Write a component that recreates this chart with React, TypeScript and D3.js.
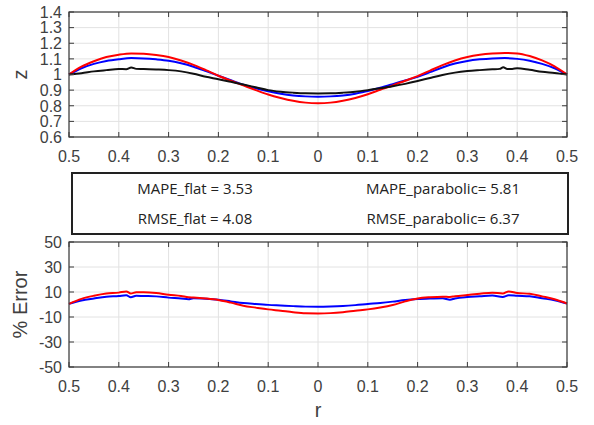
import React from "react";
import * as d3 from "d3";

const W = 594;
const H = 425;

// top panel: surface height z vs r
const rTop = [
  -0.5, -0.475, -0.45, -0.425, -0.4, -0.375, -0.35, -0.325, -0.3, -0.275, -0.25,
  -0.225, -0.2, -0.175, -0.15, -0.125, -0.1, -0.075, -0.05, -0.025, 0,
  0.025, 0.05, 0.075, 0.1, 0.125, 0.15, 0.175, 0.2, 0.225, 0.25,
  0.275, 0.3, 0.325, 0.35, 0.375, 0.4, 0.425, 0.45, 0.475, 0.5,
];
const zFlat = [
  1.0, 1.04, 1.068, 1.087, 1.098, 1.105, 1.103, 1.097, 1.088, 1.072, 1.05,
  1.022, 0.992, 0.963, 0.935, 0.912, 0.893, 0.877, 0.866, 0.86, 0.858,
  0.86, 0.866, 0.877, 0.895, 0.915, 0.938, 0.962, 0.985, 1.015, 1.045,
  1.07, 1.087, 1.097, 1.103, 1.105, 1.1, 1.088, 1.068, 1.04, 1.0,
];
const zParabolic = [
  1.0, 1.05, 1.085, 1.112, 1.127, 1.135, 1.133, 1.125, 1.112, 1.09, 1.062,
  1.028, 0.992, 0.96, 0.93, 0.9, 0.872, 0.85, 0.832, 0.82, 0.816,
  0.82, 0.832, 0.85, 0.874, 0.902, 0.93, 0.96, 0.99, 1.025, 1.06,
  1.09, 1.112, 1.126, 1.134, 1.138, 1.135, 1.118, 1.09, 1.052, 1.0,
];
const rMeasured = [
  -0.5, -0.475, -0.45, -0.425, -0.4, -0.385, -0.375, -0.365, -0.35, -0.325, -0.3,
  -0.275, -0.25, -0.225, -0.2, -0.175, -0.15, -0.125, -0.1, -0.075, -0.05, -0.025, 0,
  0.025, 0.05, 0.075, 0.1, 0.125, 0.15, 0.175, 0.2, 0.225, 0.25, 0.275, 0.3,
  0.325, 0.35, 0.365, 0.372, 0.38, 0.39, 0.4, 0.425, 0.45, 0.475, 0.5,
];
const zMeasured = [
  1.0, 1.008, 1.02, 1.028, 1.035, 1.034, 1.045, 1.036, 1.035, 1.032, 1.028,
  1.02, 1.005, 0.985, 0.97, 0.953, 0.936, 0.918, 0.9, 0.89, 0.884, 0.88, 0.879,
  0.88, 0.884, 0.89, 0.9, 0.912, 0.925, 0.94, 0.958, 0.978, 0.997, 1.012, 1.022,
  1.028, 1.033, 1.036, 1.046, 1.036, 1.036, 1.04, 1.03, 1.018, 1.01, 1.0,
];

// bottom panel: % error vs r
const rErr = [
  -0.5, -0.475, -0.45, -0.425, -0.4, -0.385, -0.376, -0.365, -0.35, -0.325, -0.3,
  -0.275, -0.26, -0.25, -0.225, -0.2, -0.175, -0.15, -0.125, -0.1, -0.075, -0.05,
  -0.025, 0, 0.025, 0.05, 0.075, 0.1, 0.125, 0.15, 0.175, 0.2, 0.225, 0.25,
  0.265, 0.275, 0.3, 0.325, 0.35, 0.371, 0.383, 0.4, 0.425, 0.45, 0.475, 0.5,
];
const errFlat = [
  0.5, 3.2, 4.8, 6.2, 6.8, 7.4, 5.8, 7, 6.8, 6.5, 5.5,
  4.8, 4.2, 5, 4.6, 3.8, 2.5, 1.2, 0.4, -0.3, -0.8, -1.3,
  -1.7, -1.8, -1.6, -1.2, -0.5, 0.4, 1.2, 2.3, 3.6, 4.4, 4.8, 5,
  3.8, 4.8, 6, 6.6, 7.2, 6, 7.4, 7, 6.6, 5, 3.4, 0.8,
];
const errParabolic = [
  0.5, 4.5, 7, 8.8, 9.5, 10.5, 8.8, 9.8, 9.8, 9.2, 7.8,
  6.8, 5.8, 5.6, 4.8, 3.6, 1.5, -1, -2.5, -3.9, -5, -6.2,
  -7, -7.1, -6.9, -6.2, -5, -3.9, -2.4, -0.4, 2.5, 4.8, 5.8, 6.3,
  6, 6.6, 7.6, 8.6, 9.5, 8.8, 10.5, 9.2, 8.6, 6.5, 4.2, 0.8,
];

const xTicks = [-0.5, -0.4, -0.3, -0.2, -0.1, 0, 0.1, 0.2, 0.3, 0.4, 0.5];
const zTicks = [0.6, 0.7, 0.8, 0.9, 1, 1.1, 1.2, 1.3, 1.4];
const errTicks = [-50, -30, -10, 10, 30, 50];

const stats = [
  { left: "MAPE_flat = 3.53", right: "MAPE_parabolic= 5.81" },
  { left: "RMSE_flat = 4.08", right: "RMSE_parabolic= 6.37" },
];

const AXIS = "#3a3a3a";
const GRID = "#e2e2e2";
const TXT = "#404040";
const TICK_FONT = "'Liberation Sans', Arial, sans-serif";

type Series = { xs: number[]; ys: number[]; color: string };

// plain hyphen minus, like MATLAB's labels
const label = (v: number) => String(Math.round(v * 10) / 10);

function Panel({
  top,
  bottom,
  left,
  right,
  yDomain,
  yTicks,
  yLabel,
  series,
}: {
  top: number;
  bottom: number;
  left: number;
  right: number;
  yDomain: [number, number];
  yTicks: number[];
  yLabel: string;
  series: Series[];
}) {
  const x = d3.scaleLinear().domain([-0.5, 0.5]).range([left, right]);
  const y = d3.scaleLinear().domain(yDomain).range([bottom, top]);
  const tl = 5;
  return (
    <g>
      {xTicks.map((t) => (
        <line key={"gx" + t} x1={x(t)} x2={x(t)} y1={top} y2={bottom} stroke={GRID} />
      ))}
      {yTicks.map((t) => (
        <line key={"gy" + t} x1={left} x2={right} y1={y(t)} y2={y(t)} stroke={GRID} />
      ))}
      {series.map((s, i) => {
        const line = d3
          .line<number>()
          .x((_, j) => x(s.xs[j]))
          .y((d) => y(d))
          .curve(d3.curveMonotoneX);
        return (
          <path key={i} d={line(s.ys) || ""} fill="none" stroke={s.color} strokeWidth={2} />
        );
      })}
      {xTicks.map((t) => (
        <g key={"tx" + t}>
          <line x1={x(t)} x2={x(t)} y1={bottom} y2={bottom - tl} stroke={AXIS} />
          <line x1={x(t)} x2={x(t)} y1={top} y2={top + tl} stroke={AXIS} />
          <text
            x={x(t)}
            y={bottom + 25}
            textAnchor="middle"
            fontSize={16}
            fontFamily={TICK_FONT}
            fill={TXT}
          >
            {label(Math.abs(t))}
          </text>
        </g>
      ))}
      {yTicks.map((t) => (
        <g key={"ty" + t}>
          <line x1={left} x2={left + tl} y1={y(t)} y2={y(t)} stroke={AXIS} />
          <line x1={right} x2={right - tl} y1={y(t)} y2={y(t)} stroke={AXIS} />
          <text
            x={left - 7}
            y={y(t)}
            dy="0.36em"
            textAnchor="end"
            fontSize={16}
            fontFamily={TICK_FONT}
            fill={TXT}
          >
            {label(t)}
          </text>
        </g>
      ))}
      <rect
        x={left}
        y={top}
        width={right - left}
        height={bottom - top}
        fill="none"
        stroke={AXIS}
        strokeWidth={1.2}
      />
      <text
        transform={`translate(27, ${(top + bottom) / 2}) rotate(-90)`}
        textAnchor="middle"
        fontSize={20}
        fontFamily={TICK_FONT}
        fill={TXT}
      >
        {yLabel}
      </text>
    </g>
  );
}

export default function App() {
  const left = 69;
  const right = 567;
  return (
    <svg
      width={W}
      height={H}
      style={{ position: "absolute", left: 0, top: 0, background: "#fff" }}
    >
      <Panel
        top={12}
        bottom={137}
        left={left}
        right={right}
        yDomain={[0.6, 1.4]}
        yTicks={zTicks}
        yLabel="z"
        series={[
          { xs: rTop, ys: zFlat, color: "#0000ff" },
          { xs: rTop, ys: zParabolic, color: "#ff0000" },
          { xs: rMeasured, ys: zMeasured, color: "#111" },
        ]}
      />
      <rect x={72} y={173} width={496} height={61} fill="#fff" stroke="#222" strokeWidth={2} />
      {stats.map((s, i) => (
        <g key={i} fontFamily="'Open Sans', sans-serif" fontSize={15} fill="#222">
          <text x={195} y={194 + i * 30} textAnchor="middle">
            {s.left}
          </text>
          <text x={443} y={194 + i * 30} textAnchor="middle">
            {s.right}
          </text>
        </g>
      ))}
      <Panel
        top={242}
        bottom={367}
        left={left}
        right={right}
        yDomain={[-50, 50]}
        yTicks={errTicks}
        yLabel="% Error"
        series={[
          { xs: rErr, ys: errFlat, color: "#0000ff" },
          { xs: rErr, ys: errParabolic, color: "#ff0000" },
        ]}
      />
      <text
        x={(left + right) / 2}
        y={417}
        textAnchor="middle"
        fontSize={20}
        fontFamily={TICK_FONT}
        fill={TXT}
      >
        r
      </text>
    </svg>
  );
}
